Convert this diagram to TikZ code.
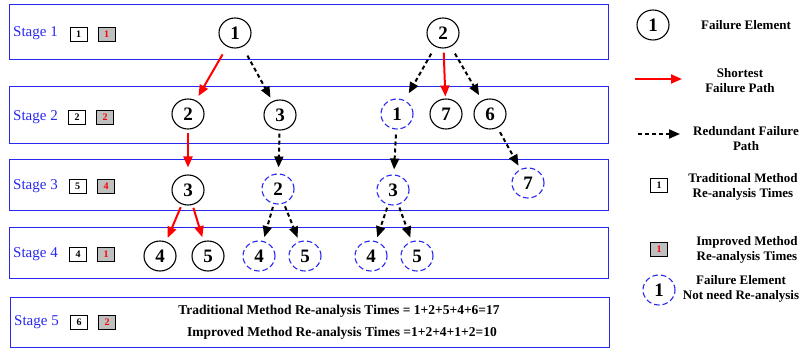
\documentclass[tikz,border=0pt]{standalone}
\usepackage{fontspec}
\setmainfont{Liberation Serif}
\usetikzlibrary{shapes.geometric,arrows.meta}
\definecolor{bl}{RGB}{40,40,240}
\begin{document}
\begin{tikzpicture}[x=1pt,y=-1pt,
 stagebox/.style={draw=bl, line width=1pt},
 stlabel/.style={text=bl, font=\fontsize{15}{18}\selectfont, anchor=west, inner sep=0},
 cnt/.style={draw, line width=0.9pt, minimum width=17pt, minimum height=14pt, inner sep=0, font=\fontsize{10}{11}\selectfont\bfseries},
 cntg/.style={cnt, fill=gray!50, text=red},
 fe/.style={ellipse, draw, line width=1.1pt, minimum width=32pt, minimum height=30pt, inner sep=0, font=\fontsize{19}{21}\selectfont\bfseries},
 fed/.style={fe, draw=bl, dash pattern=on 5.5pt off 3pt},
 redarr/.style={draw=red, line width=2pt, -{Triangle[length=11pt,width=9pt]}},
 dasharr/.style={draw=black, line width=2pt, dash pattern=on 4pt off 3pt, -{Triangle[length=11pt,width=9pt]}},
 legtext/.style={font=\fontsize{13}{15}\selectfont\bfseries, align=center},
 sumtext/.style={font=\fontsize{13.5}{15}\selectfont\bfseries},
]
\useasboundingbox (0,0) rectangle (801,352);
% stage boxes
\draw[stagebox] (9,5) rectangle (608,60);
\draw[stagebox] (9,87) rectangle (608,144);
\draw[stagebox] (9,160) rectangle (608,211);
\draw[stagebox] (9,228) rectangle (608,279);
\draw[stagebox] (10,298) rectangle (609,348);
% stage labels and counters
\node[stlabel] (s1) at (13,33) {Stage 1};
\node[stlabel] (s2) at (13,117) {Stage 2};
\node[stlabel] (s3) at (13,186) {Stage 3};
\node[stlabel] (s4) at (13,254) {Stage 4};
\node[stlabel] (s5) at (14,322) {Stage 5};
\node[cnt] (t1) at (78.5,34) {1};
\node[cntg] (g1) at (106.5,34) {1};
\node[cnt] (t2) at (77,117) {2};
\node[cntg] (g2) at (105,117) {2};
\node[cnt] (t3) at (77.5,186) {5};
\node[cntg] (g3) at (106,186) {4};
\node[cnt] (t4) at (78,254) {4};
\node[cntg] (g4) at (106,254) {1};
\node[cnt] (t5) at (79,322) {6};
\node[cntg] (g5) at (107,322) {2};
% elements
\node[fe] (a1) at (235,33) {1};
\node[fe] (b2) at (443,33) {2};
\node[fe] (a2) at (188,114) {2};
\node[fe] (a3) at (280,115) {3};
\node[fed] (b1) at (397,114) {1};
\node[fe] (b7) at (446,114) {7};
\node[fe] (b6) at (490,114) {6};
\node[fe] (c3) at (188,190) {3};
\node[fed] (c2) at (278,189) {2};
\node[fed] (d3) at (393,190) {3};
\node[fed] (d7) at (528,183) {7};
\node[fe] (e4) at (160,256) {4};
\node[fe] (e5) at (208,256) {5};
\node[fed] (f4) at (259,256) {4};
\node[fed] (f5) at (305,256) {5};
\node[fed] (h4) at (371,256) {4};
\node[fed] (h5) at (417,256) {5};
% connectors
\draw[redarr, shorten <=9pt, shorten >=5pt] (a1) -- (a2);
\draw[dasharr, shorten <=10pt, shorten >=4pt] (a1) -- (a3);
\draw[redarr, shorten <=3pt, shorten >=7pt] (a2) -- (c3);
\draw[dasharr, shorten <=3pt, shorten >=6pt] (a3) -- (c2);
\draw[dasharr, shorten <=8pt, shorten >=8pt] (b2) -- (b1);
\draw[redarr, shorten <=4pt, shorten >=2pt] (b2) -- (b7);
\draw[dasharr, shorten <=8pt, shorten >=6pt] (b2) -- (b6);
\draw[dasharr, shorten <=5pt, shorten >=5pt] (b1) -- (d3);
\draw[dasharr, shorten <=5pt, shorten >=4pt] (b6) -- (d7);
\draw[redarr, shorten <=3pt, shorten >=4pt] (c3) -- (e4);
\draw[redarr, shorten <=3pt, shorten >=4pt] (c3) -- (e5);
\draw[dasharr, shorten <=3pt, shorten >=4pt] (c2) -- (f4);
\draw[dasharr, shorten <=3pt, shorten >=4pt] (c2) -- (f5);
\draw[dasharr, shorten <=3pt, shorten >=4pt] (d3) -- (h4);
\draw[dasharr, shorten <=3pt, shorten >=4pt] (d3) -- (h5);
% stage 5 sums
\node[sumtext] (sum1) at (339,311) {Traditional Method Re-analysis Times = 1+2+5+4+6=17};
\node[sumtext] (sum2) at (342,333) {Improved Method Re-analysis Times =1+2+4+1+2=10};
% legend
\node[fe] (lfe) at (653,25) {1};
\node[legtext] (lfet) at (746,25) {Failure Element};
\coordinate (lr1) at (635,79);
\coordinate (lr2) at (682,79);
\draw[redarr] (lr1) -- (lr2);
\node[legtext] (lrt) at (740,80.5) {Shortest\\Failure Path};
\coordinate (ld1) at (638,134);
\coordinate (ld2) at (680,134);
\draw[dasharr] (ld1) -- (ld2);
\node[legtext] (ldt) at (746,138.5) {Redundant Failure\\Path};
\node[cnt] (lt) at (659,185) {1};
\node[legtext] (ltt) at (743,186.5) {Traditional Method\\Re-analysis Times};
\node[cntg] (lg) at (659,249) {1};
\node[legtext] (lgt) at (747,249.5) {Improved Method\\Re-analysis Times};
\node[fed] (ld) at (659,290) {1};
\node[legtext] (ldd) at (741,288.5) {Failure Element\\Not need Re-analysis};
\end{tikzpicture}
\end{document}
